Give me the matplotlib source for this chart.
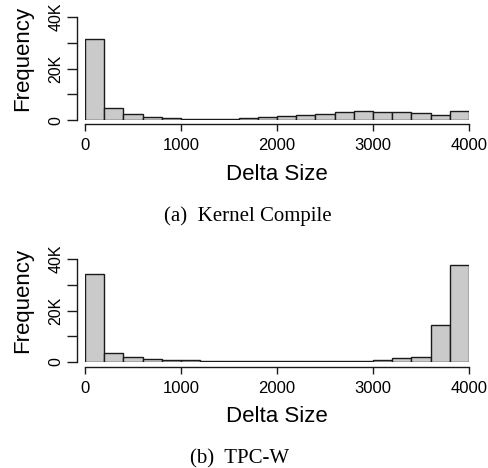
import matplotlib
matplotlib.use("Agg")
import matplotlib.pyplot as plt
import numpy as np

# Data (counts per 200-wide bin, 0..4000)
bin_edges = list(range(0, 4001, 200))
kernel_counts = [31600, 4900, 2400, 1200, 800, 500, 400, 500, 800, 1200,
                 1500, 1900, 2400, 3100, 3600, 3300, 3300, 2900, 2200, 3500]
tpcw_counts = [34200, 3500, 2000, 1300, 900, 900, 500, 400, 400, 400,
               300, 300, 300, 300, 300, 900, 1400, 2100, 14500, 37700]
x_ticks = [0, 1000, 2000, 3000, 4000]
y_ticks = [0, 10000, 20000, 30000, 40000]
y_labels = ["0", "", "20K", "", "40K"]
captions = ["(a)  Kernel Compile", "(b)  TPC-W"]

W, H = 489, 468
fig = plt.figure(figsize=(W / 100, H / 100), dpi=100)

SANS = "Liberation Sans"
SERIF = "Liberation Serif"

def px_axes(x0, x1, y_top, y_bot):
    return fig.add_axes([x0 / W, 1 - y_bot / H, (x1 - x0) / W, (y_bot - y_top) / H])

panels = [
    dict(counts=kernel_counts, ytop=17, ybot=120.3, xoff=4.0, caption=captions[0],
         cap_x=248, cap_y=216.5, lab_y=175),
    dict(counts=tpcw_counts, ytop=259, ybot=362, xoff=4.7, caption=captions[1],
         cap_x=240, cap_y=458.5, lab_y=416.5),
]

for p in panels:
    ax = px_axes(85, 469, p["ytop"], p["ybot"])
    left = np.array(bin_edges[:-1])
    widths = np.diff(bin_edges)
    ax.bar(left, p["counts"], width=widths, align="edge", color="#cacaca",
           edgecolor="#1a1a1a", linewidth=1.0)
    ax.set_xlim(0, 4000)
    ax.set_ylim(0, 40000)
    for s in ["top", "right"]:
        ax.spines[s].set_visible(False)
    ax.spines["left"].set_position(("outward", 8.3 * 0.72))
    ax.spines["bottom"].set_position(("outward", p["xoff"] * 0.72))
    ax.spines["left"].set_bounds(0, 40000)
    ax.spines["bottom"].set_bounds(0, 4000)
    for s in ["left", "bottom"]:
        ax.spines[s].set_linewidth(1.0)
        ax.spines[s].set_color("#1a1a1a")
    ax.set_xticks(x_ticks)
    ax.set_xticklabels([str(v) for v in x_ticks], fontfamily=SANS, fontsize=12)
    ax.set_yticks(y_ticks)
    ax.set_yticklabels(y_labels, fontfamily=SANS, fontsize=11.5, rotation=90,
                       va="center")
    ax.tick_params(axis="x", length=5, width=1.0, pad=5, color="#1a1a1a")
    ax.tick_params(axis="y", length=7, width=1.0, pad=2.5, color="#1a1a1a")
    ax.set_ylabel("Frequency", fontfamily=SANS, fontsize=16)
    ax.yaxis.set_label_coords(-0.135, 0.595)
    fig.text(277 / W, 1 - p["lab_y"] / H, "Delta Size", fontfamily=SANS, fontsize=16,
             ha="center", va="center")
    fig.text(p["cap_x"] / W, 1 - p["cap_y"] / H, p["caption"], fontfamily=SERIF,
             fontsize=15, ha="center", va="center")

fig.savefig("out.png", dpi=100)
